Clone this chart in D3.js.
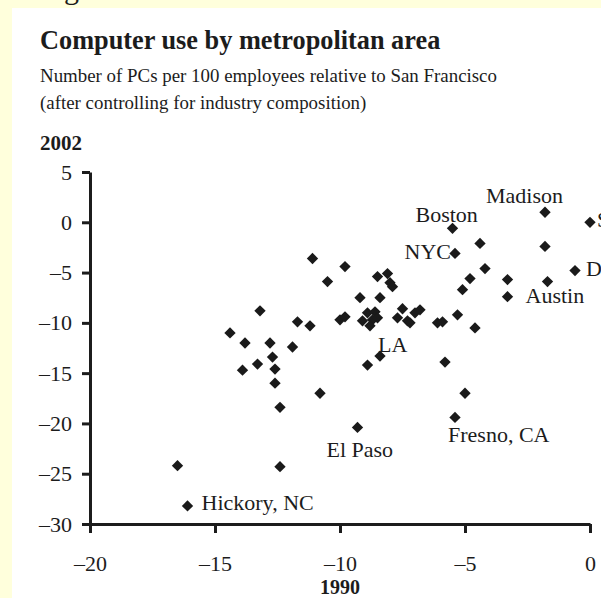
<!DOCTYPE html>
<html>
<head>
<meta charset="utf-8">
<script src="https://cdn.jsdelivr.net/npm/d3@7"></script>
<style>
    html, body { margin: 0; padding: 0; background: #ffffdc; }
    svg { display: block; }
    text { font-family: "Liberation Serif", "Times New Roman", serif; fill: #1c1c1c; }
</style>
</head>
<body>
<svg id="chart"></svg>
<script>
// values: PCs per 100 employees relative to San Francisco
const pcs1990 = [-16.5, -16.1, -12.4, -12.4, -12.6, -12.6, -12.7, -13.3, -13.9, -13.2,
    -14.4, -13.8, -12.8, -11.9, -11.7, -11.2, -11.1, -9.8, -10.5, -8.5,
    -8.1, -8.0, -7.9, -9.2, -8.4, -10.0, -9.8, -9.1, -8.9, -8.6,
    -8.7, -8.8, -8.5, -7.7, -7.5, -7.3, -7.0, -6.8, -7.2, -6.1,
    -5.9, -5.3, -4.6, -8.4, -8.9, -5.8, -10.8, -9.3, -5.4, -5.0,
    -5.5, -4.4, -5.4, -1.8, -1.8, 0.0, -4.2, -4.8, -5.1, -3.3,
    -3.3, -1.7, -0.6];
const pcs2002 = [-24.2, -28.2, -24.3, -18.4, -16.0, -14.6, -13.4, -14.1, -14.7, -8.8,
    -11.0, -12.0, -12.0, -12.4, -9.9, -10.3, -3.6, -4.4, -5.9, -5.4,
    -5.1, -6.0, -6.4, -7.5, -7.5, -9.7, -9.4, -9.8, -9.0, -8.9,
    -9.7, -10.3, -9.5, -9.5, -8.6, -9.8, -9.0, -8.7, -10.0, -10.0,
    -9.9, -9.2, -10.5, -13.3, -14.2, -13.9, -17.0, -20.4, -19.4, -17.0,
    -0.6, -2.1, -3.1, 1.0, -2.4, 0.0, -4.6, -5.6, -6.7, -5.7,
    -7.4, -5.9, -4.8];
const cityNames = ["", "Hickory, NC", "", "", "", "", "", "", "", "",
    "", "", "", "", "", "", "", "", "", "",
    "", "", "", "", "", "", "", "", "", "",
    "", "", "", "", "", "", "", "", "", "",
    "", "", "", "LA", "", "", "", "El Paso", "Fresno, CA", "",
    "Boston", "", "NYC", "Madison", "", "SF", "", "", "", "",
    "Austin", "", "DC"];

const xTicks = [-20, -15, -10, -5, 0];
const yTicks = [5, 0, -5, -10, -15, -20, -25, -30];

const width = 601, height = 598;

// where each city label sits relative to its marker
const labelPos = {
    "Hickory, NC": { dx: 14, dy: 4, anchor: "start" },
    "LA": { dx: -2, dy: -4, anchor: "start" },
    "El Paso": { dx: -31, dy: 30, anchor: "start" },
    "Fresno, CA": { dx: -7, dy: 25, anchor: "start" },
    "Boston": { dx: -37, dy: -6, anchor: "start" },
    "NYC": { dx: -4, dy: 6, anchor: "end" },
    "Madison": { dx: -59, dy: -9, anchor: "start" },
    "Austin": { dx: 18, dy: 6, anchor: "start" },
    "SF": { dx: 7, dy: 5, anchor: "start" },
    "DC": { dx: 11, dy: 5, anchor: "start" }
};

var svg = d3.select("#chart")
    .attr("width", width)
    .attr("height", height);

// white page on the yellow slide
svg.append("rect")
    .attr("x", 12)
    .attr("y", 8)
    .attr("width", width - 12)
    .attr("height", height - 8)
    .style("fill", "#ffffff");

// bottom of the cut-off caption line above
svg.append("text")
    .attr("x", 39)
    .attr("y", -1)
    .style("font-size", "30px")
    .text("Figure");

svg.append("text")
    .attr("x", 40)
    .attr("y", 49)
    .style("font-size", "26.3px")
    .style("font-weight", "bold")
    .text("Computer use by metropolitan area");

svg.append("text")
    .attr("x", 40)
    .attr("y", 82)
    .style("font-size", "18.9px")
    .text("Number of PCs per 100 employees relative to San Francisco");

svg.append("text")
    .attr("x", 40)
    .attr("y", 109)
    .style("font-size", "18.9px")
    .text("(after controlling for industry composition)");

svg.append("text")
    .attr("x", 40)
    .attr("y", 150)
    .style("font-size", "21px")
    .style("font-weight", "bold")
    .text("2002");

var x = d3.scaleLinear().domain([-20, 0]).range([90, 590]);
var y = d3.scaleLinear().domain([-30, 5]).range([524, 172]);

// tick labels use a short dash like the original
var fmt = function(d) { return String(d).replace("-", "\u2013"); };

var xAxis = svg.append("g")
    .attr("transform", "translate(0," + y(-30) + ")")
    .call(d3.axisBottom(x).tickValues(xTicks).tickFormat(fmt)
        .tickSize(9).tickSizeOuter(0).tickPadding(22));

var yAxis = svg.append("g")
    .attr("transform", "translate(" + x(-20) + ",0)")
    .call(d3.axisLeft(y).tickValues(yTicks).tickFormat(fmt)
        .tickSize(8).tickSizeOuter(0).tickPadding(10));

[xAxis, yAxis].forEach(function(ax) {
    ax.select(".domain").style("stroke", "#1c1c1c").style("stroke-width", 3);
    ax.selectAll(".tick line").style("stroke", "#1c1c1c").style("stroke-width", 3);
    ax.selectAll(".tick text")
        .style("font-family", "'Liberation Serif', serif")
        .style("font-size", "22px")
        .style("fill", "#1c1c1c");
});

svg.append("text")
    .attr("x", x(-10))
    .attr("y", 594)
    .attr("text-anchor", "middle")
    .style("font-size", "20px")
    .style("font-weight", "bold")
    .text("1990");

// markers: small diamonds
var diamond = d3.symbol().type(d3.symbolSquare).size(64);

svg.selectAll(".city")
    .data(d3.range(pcs1990.length))
    .enter()
    .append("path")
    .attr("class", "city")
    .attr("d", diamond)
    .attr("transform", function(i) {
        return "translate(" + x(pcs1990[i]) + "," + y(pcs2002[i]) + ") rotate(45)";
    })
    .style("fill", "#1a1a1a");

svg.selectAll(".city-label")
    .data(d3.range(cityNames.length).filter(function(i) { return cityNames[i] !== ""; }))
    .enter()
    .append("text")
    .attr("class", "city-label")
    .attr("x", function(i) { return x(pcs1990[i]) + labelPos[cityNames[i]].dx; })
    .attr("y", function(i) { return y(pcs2002[i]) + labelPos[cityNames[i]].dy; })
    .attr("text-anchor", function(i) { return labelPos[cityNames[i]].anchor; })
    .style("font-size", "22px")
    .text(function(i) { return cityNames[i]; });
</script>
</body>
</html>
